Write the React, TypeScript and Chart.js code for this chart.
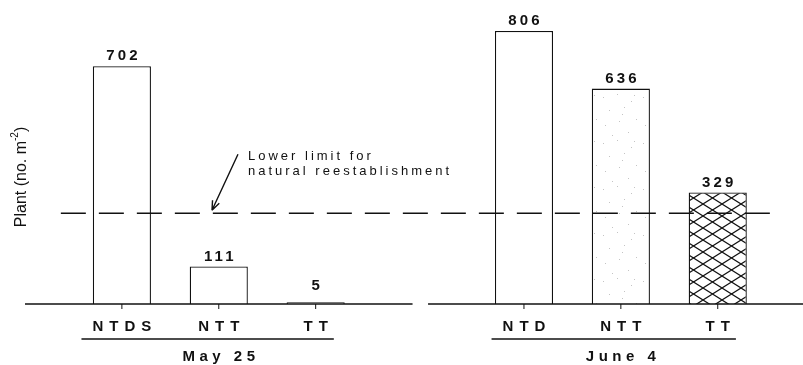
import React, { useEffect, useRef } from "react";
import { Chart, registerables } from "chart.js";

Chart.register(...registerables);

// ---- data ----
const categoriesMay = ["NTDS", "NTT", "TT"];
const valuesMay = [702, 111, 5];
const categoriesJune = ["NTD", "NTT", "TT"];
const valuesJune = [806, 636, 329];
const groupLabels = ["May 25", "June 4"];
const lowerLimit = 268;
const yTitleMain = "Plant (no. m";
const yTitleSup = "-2";
const yTitleEnd = ")";
const annotationLines = ["Lower limit for", "natural reestablishment"];

// ---- layout (not data) ----
const GROUP_START = [1, 5.15];
const X_MAX = 8.03;
const AXIS_SEGMENTS = [
  [0, 4],
  [4.16, X_MAX],
];
const FONT = "'Liberation Sans', Arial, Helvetica, sans-serif";
const INK = "#111";

function makeHatch(): CanvasPattern | string {
  const c = document.createElement("canvas");
  c.width = 19;
  c.height = 12;
  const g = c.getContext("2d");
  if (!g) return "#fff";
  g.fillStyle = "#fff";
  g.fillRect(0, 0, 19, 12);
  g.strokeStyle = "#111";
  g.lineWidth = 1.2;
  g.beginPath();
  g.moveTo(0, 0);
  g.lineTo(19, 12);
  g.moveTo(19, 0);
  g.lineTo(0, 12);
  g.stroke();
  const p = g.createPattern(c, "repeat");
  return p || "#fff";
}

function makeStipple(): CanvasPattern | string {
  const c = document.createElement("canvas");
  c.width = 40;
  c.height = 46;
  const g = c.getContext("2d");
  if (!g) return "#fff";
  g.fillStyle = "#fff";
  g.fillRect(0, 0, 40, 46);
  g.fillStyle = "#c4c4c4";
  const dots = [
    [3, 5], [17, 2], [31, 9], [9, 18], [24, 15], [36, 27], [5, 33], [19, 29], [28, 40], [12, 43], [34, 3], [22, 22],
  ];
  dots.forEach(([dx, dy]) => g.fillRect(dx, dy, 1, 1));
  const p = g.createPattern(c, "repeat");
  return p || "#fff";
}

function spacedText(
  ctx: CanvasRenderingContext2D,
  text: string,
  cx: number,
  cy: number,
  font: string,
  spacing: number
) {
  ctx.save();
  ctx.font = font;
  (ctx as any).letterSpacing = spacing + "px";
  ctx.textAlign = "center";
  ctx.textBaseline = "middle";
  ctx.fillStyle = INK;
  ctx.fillText(text, cx + spacing / 2, cy);
  const w = ctx.measureText(text).width - spacing;
  ctx.restore();
  return w;
}

const decorations = {
  id: "decorations",
  afterDatasetsDraw(chart: any) {
    const { ctx, scales } = chart;
    const xs = scales.x;
    const ys = scales.y;
    const base = ys.getPixelForValue(0);

    // baseline segments
    ctx.save();
    ctx.strokeStyle = INK;
    ctx.lineWidth = 1.3;
    AXIS_SEGMENTS.forEach(([a, b]) => {
      ctx.beginPath();
      ctx.moveTo(xs.getPixelForValue(a), base);
      ctx.lineTo(xs.getPixelForValue(b), base);
      ctx.stroke();
    });
    ctx.restore();

    // dashed lower-limit line
    const yl = ys.getPixelForValue(lowerLimit);
    ctx.save();
    ctx.strokeStyle = INK;
    ctx.lineWidth = 1.3;
    ctx.setLineDash([25, 13]);
    ctx.beginPath();
    ctx.moveTo(xs.getPixelForValue(0.37), yl);
    ctx.lineTo(xs.getPixelForValue(7.79), yl);
    ctx.stroke();
    ctx.restore();

    const groups = [
      { cats: categoriesMay, vals: valuesMay, start: GROUP_START[0], label: groupLabels[0] },
      { cats: categoriesJune, vals: valuesJune, start: GROUP_START[1], label: groupLabels[1] },
    ];
    const tickFont = `bold 15px ${FONT}`;
    const valFont = `bold 15px ${FONT}`;
    groups.forEach((g) => {
      let left = Infinity;
      let right = -Infinity;
      g.cats.forEach((cat, i) => {
        const px = xs.getPixelForValue(g.start + i);
        // tick mark
        ctx.save();
        ctx.strokeStyle = INK;
        ctx.lineWidth = 1;
        ctx.beginPath();
        ctx.moveTo(px, base);
        ctx.lineTo(px, base + 5);
        ctx.stroke();
        ctx.restore();
        // value label
        const top = ys.getPixelForValue(g.vals[i]);
        spacedText(ctx, String(g.vals[i]), px, Math.min(top, base - 8) - 10, valFont, 3.2);
        // category label
        const w = spacedText(ctx, cat, px, 327, tickFont, 6);
        left = Math.min(left, px - w / 2);
        right = Math.max(right, px + w / 2);
      });
      // underline
      ctx.save();
      ctx.strokeStyle = INK;
      ctx.lineWidth = 1.3;
      ctx.beginPath();
      ctx.moveTo(left - 11, 339);
      ctx.lineTo(right + 6, 339);
      ctx.stroke();
      ctx.restore();
      // group label
      spacedText(ctx, g.label, xs.getPixelForValue(g.start + 1), 357, tickFont, 4.5);
    });

    // annotation arrow + text
    const tipX = xs.getPixelForValue(1.93);
    const tipY = yl - 3;
    const sx = tipX + 26;
    const sy = tipY - 56;
    ctx.save();
    ctx.strokeStyle = INK;
    ctx.lineWidth = 1.4;
    ctx.beginPath();
    ctx.moveTo(sx, sy);
    ctx.lineTo(tipX, tipY);
    const ang = Math.atan2(tipY - sy, tipX - sx);
    const hl = 10;
    ctx.moveTo(tipX, tipY);
    ctx.lineTo(tipX - hl * Math.cos(ang - 0.38), tipY - hl * Math.sin(ang - 0.38));
    ctx.moveTo(tipX, tipY);
    ctx.lineTo(tipX - hl * Math.cos(ang + 0.38), tipY - hl * Math.sin(ang + 0.38));
    ctx.stroke();
    ctx.font = `13px ${FONT}`;
    (ctx as any).letterSpacing = "3px";
    ctx.fillStyle = INK;
    ctx.textAlign = "left";
    ctx.textBaseline = "middle";
    annotationLines.forEach((ln, i) => {
      ctx.fillText(ln, tipX + 36, tipY - 54 + i * 15);
    });
    ctx.restore();

    // y-axis title with superscript
    ctx.save();
    ctx.translate(26, 177);
    ctx.rotate(-Math.PI / 2);
    ctx.fillStyle = INK;
    ctx.textBaseline = "alphabetic";
    ctx.textAlign = "left";
    const mainFont = `16px ${FONT}`;
    const supFont = `10px ${FONT}`;
    ctx.font = mainFont;
    const w1 = ctx.measureText(yTitleMain).width;
    const w3 = ctx.measureText(yTitleEnd).width;
    ctx.font = supFont;
    const w2 = ctx.measureText(yTitleSup).width;
    const total = w1 + w2 + w3;
    let cur = -total / 2;
    ctx.font = mainFont;
    ctx.fillText(yTitleMain, cur, 0);
    cur += w1;
    ctx.font = supFont;
    ctx.fillText(yTitleSup, cur, -8);
    cur += w2;
    ctx.font = mainFont;
    ctx.fillText(yTitleEnd, cur, 0);
    ctx.restore();
  },
};

export default function App() {
  const ref = useRef<HTMLCanvasElement | null>(null);

  useEffect(() => {
    if (!ref.current) return;
    const hatch = makeHatch();
    const stipple = makeStipple();
    const points = [
      ...valuesMay.map((v, i) => ({ x: GROUP_START[0] + i, y: v })),
      ...valuesJune.map((v, i) => ({ x: GROUP_START[1] + i, y: v })),
    ];
    const fills = ["#fff", "#fff", "#fff", "#fff", stipple, hatch];
    const chart = new Chart(ref.current, {
      type: "bar",
      data: {
        datasets: [
          {
            data: points as any,
            backgroundColor: fills as any,
            borderColor: INK,
            borderWidth: 1.3,
            barPercentage: 0.6,
            categoryPercentage: 1,
          },
        ],
      },
      options: {
        animation: false,
        responsive: false,
        devicePixelRatio: 1,
        layout: { padding: { left: 25, right: 0, top: 10, bottom: 61 } },
        plugins: { legend: { display: false }, tooltip: { enabled: false } },
        scales: {
          x: { type: "linear", min: 0, max: X_MAX, offset: false, display: false },
          y: { min: 0, max: 868, display: false },
        },
      },
      plugins: [decorations],
    });
    return () => chart.destroy();
  }, []);

  return (
    <div style={{ position: "absolute", left: 0, top: 0, width: 803, height: 365, background: "#fff" }}>
      <canvas ref={ref} width={803} height={365} style={{ width: 803, height: 365, display: "block" }} />
    </div>
  );
}
